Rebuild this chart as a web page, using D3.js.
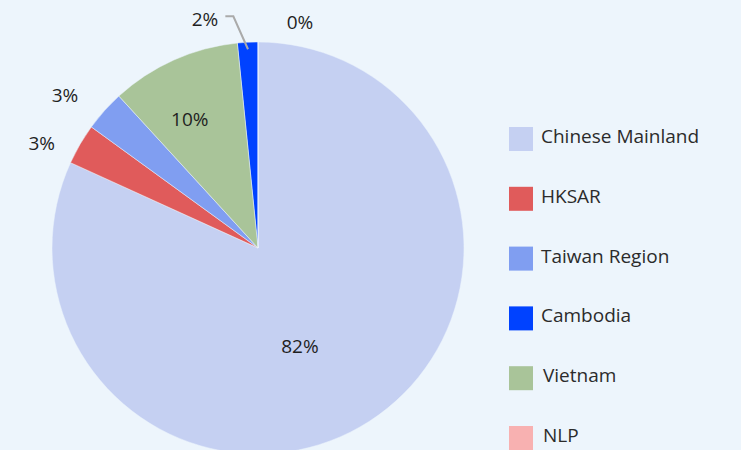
<!DOCTYPE html>
<html>
<head>
<meta charset="utf-8">
<script src="https://cdn.jsdelivr.net/npm/d3@7"></script>
<style>
  html, body { margin: 0; padding: 0; background: #edf5fc; }
  svg { display: block; font-family: "Open Sans", "Noto Sans", sans-serif; }
</style>
</head>
<body>
<svg id="chart"></svg>
<script>
// legend order
const categories = ["Chinese Mainland", "HKSAR", "Taiwan Region", "Cambodia", "Vietnam", "NLP"];
const shares = [81.8, 3.2, 3.2, 1.6, 10.2, 0.0];
const colors = ["#c5d0f2", "#e05b5b", "#809ef1", "#0042ff", "#a9c499", "#f8b1b1"];
// order of the slices, clockwise from 12 o'clock
const sliceOrder = ["NLP", "Chinese Mainland", "HKSAR", "Taiwan Region", "Vietnam", "Cambodia"];

const width = 741, height = 450;
const cx = 258, cy = 248, radius = 206;

// label placement: radius along the slice middle, then a small shift
const labelRadius = {"Chinese Mainland": 107, "Vietnam": 145};
const outerLabelRadius = 240;
const labelShift = {
    "Chinese Mainland": [-16, 8],
    "Vietnam": [-9, 3],
    "Taiwan Region": [-14, 7],
    "HKSAR": [-9, 16],
    "Cambodia": [-41, 11],
    "NLP": [42, 14]
};

let data = categories.map(function(c, i){
    return {name: c, value: shares[i], color: colors[i]};
});

let svg = d3.select("#chart")
    .attr("width", width)
    .attr("height", height);

let g = svg.append("g")
    .attr("transform", "translate(" + cx + "," + cy + ")");

let pie = d3.pie()
    .value(function(d){ return d.value; })
    .sort(function(a, b){ return sliceOrder.indexOf(a.name) - sliceOrder.indexOf(b.name); });

let arcs = pie(data);

let arc = d3.arc().innerRadius(0).outerRadius(radius);

g.selectAll(".slice")
    .data(arcs)
    .enter().append("path")
    .attr("class", "slice")
    .attr("d", arc)
    .attr("fill", function(d){ return d.data.color; })
    .attr("stroke", "#edf5fc")
    .attr("stroke-width", 0.5);

function pointAt(angle, r){
    return [Math.sin(angle) * r, -Math.cos(angle) * r];
}

function labelPos(d){
    let mid = (d.startAngle + d.endAngle) / 2;
    let r = labelRadius[d.data.name] || outerLabelRadius;
    let p = pointAt(mid, r);
    let s = labelShift[d.data.name] || [0, 0];
    return [p[0] + s[0], p[1] + s[1]];
}

// leader line for the Cambodia slice
let cam = arcs.find(function(d){ return d.data.name == "Cambodia"; });
let camMid = (cam.startAngle + cam.endAngle) / 2;
let l0 = pointAt(camMid, 199);
let l1 = pointAt(camMid, 232);
l1[0] -= 13;
let l2 = [l1[0] - 8, l1[1]];
g.append("path")
    .attr("d", d3.line()([l0, l1, l2]))
    .attr("fill", "none")
    .attr("stroke", "#aaaaaa")
    .attr("stroke-width", 2);

g.selectAll(".label")
    .data(arcs)
    .enter().append("text")
    .attr("class", "label")
    .attr("x", function(d){ return labelPos(d)[0]; })
    .attr("y", function(d){ return labelPos(d)[1]; })
    .attr("text-anchor", "middle")
    .attr("dominant-baseline", "central")
    .attr("font-size", 19)
    .attr("fill", "#1f1f1f")
    .text(function(d){ return Math.round(d.data.value) + "%"; });

// legend
let legendY = d3.scalePoint()
    .domain(categories)
    .range([139, 438]);

let legend = svg.selectAll(".legend")
    .data(data)
    .enter().append("g")
    .attr("class", "legend")
    .attr("transform", function(d){ return "translate(509," + legendY(d.name) + ")"; });

legend.append("rect")
    .attr("x", 0)
    .attr("y", -12)
    .attr("width", 24)
    .attr("height", 24)
    .attr("fill", function(d){ return d.color; });

legend.append("text")
    .attr("x", function(d){ return (d.name == "Vietnam" || d.name == "NLP") ? 34 : 32; })
    .attr("y", -3)
    .attr("dominant-baseline", "central")
    .attr("font-size", 19)
    .attr("fill", "#2b2b2b")
    .text(function(d){ return d.name; });
</script>
</body>
</html>
